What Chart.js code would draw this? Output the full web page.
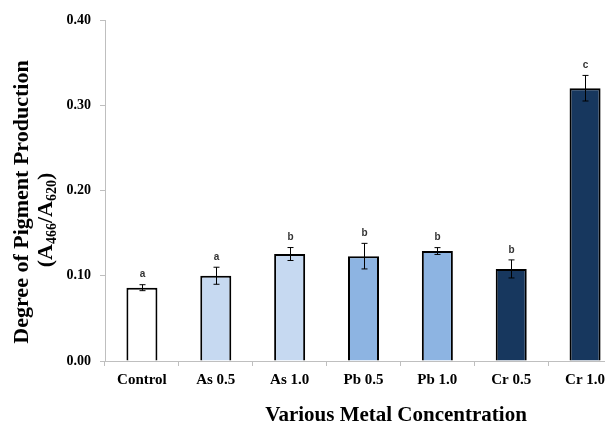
<!DOCTYPE html>
<html>
<head>
<meta charset="utf-8">
<script src="https://cdn.jsdelivr.net/npm/chart.js@4"></script>
<style>
html,body{margin:0;padding:0;background:#fff;overflow:hidden;width:605px;height:425px;}
canvas{display:block;}
</style>
</head>
<body>
<canvas id="c" width="622" height="425"></canvas>
<script>
const categories = ["Control","As 0.5","As 1.0","Pb 0.5","Pb 1.0","Cr 0.5","Cr 1.0"];
const values = [0.086, 0.100, 0.1255, 0.123, 0.129, 0.108, 0.320];
const errors = [0.0035, 0.010, 0.0076, 0.015, 0.004, 0.0106, 0.015];
const letters = ["a","a","b","b","b","b","c"];
const colors = ["#ffffff","#c6d9f1","#c6d9f1","#8db4e2","#8db4e2","#17375e","#17375e"];
const yTicks = [0, 0.1, 0.2, 0.3, 0.4];

const serif = "'Liberation Serif','Times New Roman',serif";

const errPlugin = {
  id: 'err',
  afterDatasetsDraw(chart) {
    const ctx = chart.ctx;
    const meta = chart.getDatasetMeta(0);
    const y = chart.scales.y;
    ctx.save();
    ctx.strokeStyle = '#000';
    ctx.lineWidth = 1;
    meta.data.forEach((bar, i) => {
      const x = Math.round(bar.x) + 0.5;
      const yt = y.getPixelForValue(values[i] + errors[i]);
      const yb = y.getPixelForValue(values[i] - errors[i]);
      ctx.beginPath();
      ctx.moveTo(x, yt); ctx.lineTo(x, yb);
      ctx.moveTo(x - 3, yt); ctx.lineTo(x + 3, yt);
      ctx.moveTo(x - 3, yb); ctx.lineTo(x + 3, yb);
      ctx.stroke();
      ctx.fillStyle = '#333';
      ctx.font = "bold 10px 'Liberation Sans', Arial, sans-serif";
      ctx.textAlign = 'center';
      ctx.textBaseline = 'bottom';
      ctx.fillText(letters[i], x, yt - 5);
    });
    ctx.restore();
  }
};

const titlePlugin = {
  id: 'titles',
  afterDraw(chart) {
    const ctx = chart.ctx;
    ctx.save();
    ctx.fillStyle = '#000';
    // x title
    ctx.font = "bold 21px " + serif;
    ctx.textAlign = 'center';
    ctx.textBaseline = 'middle';
    ctx.fillText("Various Metal Concentration", 396, 416);
    // y title line 1
    ctx.font = "bold 22px " + serif;
    ctx.translate(22, 202);
    ctx.rotate(-Math.PI / 2);
    ctx.fillText("Degree of Pigment Production", 0, 0);
    ctx.restore();
    // y title line 2 with subscripts
    ctx.save();
    ctx.fillStyle = '#000';
    ctx.translate(45, 220);
    ctx.rotate(-Math.PI / 2);
    const parts = [["(A", false], ["466", true], ["/A", false], ["620", true], [")", false]];
    const big = "bold 22px " + serif, small = "bold 14px " + serif;
    let total = 0;
    parts.forEach(p => { ctx.font = p[1] ? small : big; total += ctx.measureText(p[0]).width; });
    let xx = -total / 2;
    ctx.textBaseline = 'alphabetic';
    ctx.textAlign = 'left';
    parts.forEach(p => {
      ctx.font = p[1] ? small : big;
      ctx.fillText(p[0], xx, p[1] ? 11 : 7);
      xx += ctx.measureText(p[0]).width;
    });
    ctx.restore();
  }
};

new Chart(document.getElementById('c'), {
  type: 'bar',
  data: {
    labels: categories,
    datasets: [{
      data: values,
      backgroundColor: colors,
      borderColor: '#000',
      borderWidth: 2,
      borderSkipped: 'start',
      barPercentage: 0.42,
      categoryPercentage: 1.0
    }]
  },
  options: {
    responsive: false,
    animation: false,
    devicePixelRatio: 1,
    layout: { padding: { top: 20, right: 0, left: 0, bottom: 0 } },
    plugins: { legend: { display: false }, tooltip: { enabled: false } },
    scales: {
      x: {
        afterFit(s) { s.height = 64; },
        border: { color: '#bfbfbf', width: 1 },
        grid: { drawOnChartArea: false, drawTicks: true, tickLength: 5, color: '#bfbfbf', offset: true },
        ticks: { color: '#000', font: { family: serif, size: 15, weight: 'bold' }, padding: 5, maxRotation: 0 }
      },
      y: {
        min: 0, max: 0.4,
        afterFit(s) { s.width = 105; },
        afterBuildTicks(s) { s.ticks = yTicks.map(v => ({ value: v })); },
        border: { color: '#bfbfbf', width: 1 },
        grid: { drawOnChartArea: false, drawTicks: true, tickLength: 5, color: '#bfbfbf' },
        ticks: { color: '#000', font: { family: serif, size: 14, weight: 'bold' }, padding: 9,
                 callback: v => Number(v).toFixed(2) }
      }
    }
  },
  plugins: [errPlugin, titlePlugin]
});
</script>
</body>
</html>
